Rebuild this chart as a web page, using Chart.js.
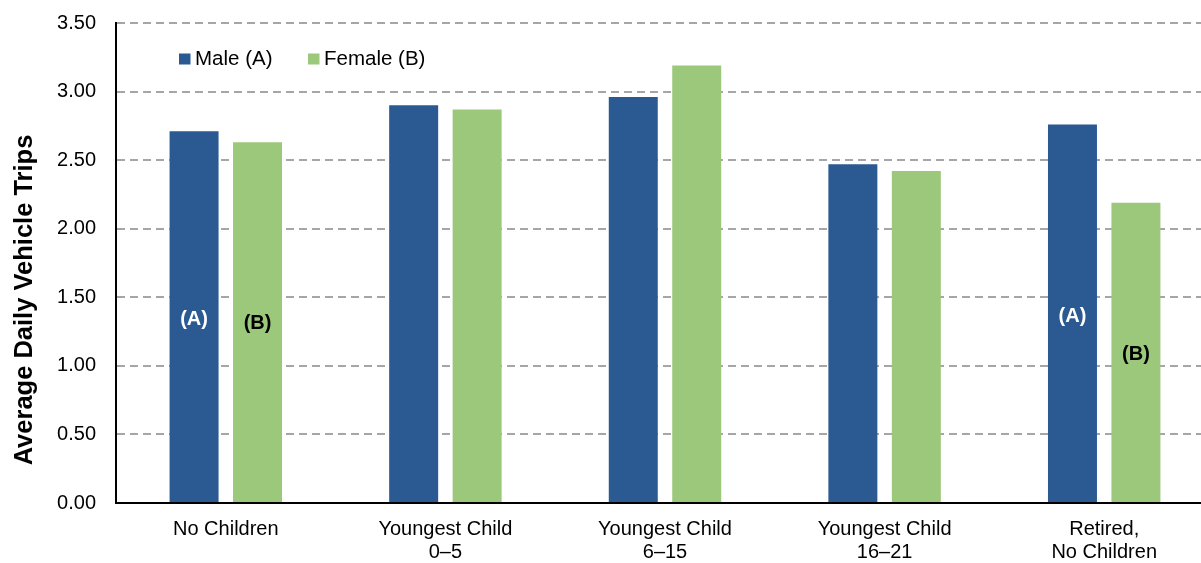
<!DOCTYPE html>
<html>
<head>
<meta charset="utf-8">
<script src="https://cdn.jsdelivr.net/npm/chart.js@4.4.1/dist/chart.umd.min.js"></script>
<style>
  html, body { margin: 0; padding: 0; background: #fff; overflow: hidden; }
  #wrap { position: relative; width: 1214px; height: 563px; }
</style>
</head>
<body>
<div id="wrap"><canvas id="c" width="1214" height="563"></canvas></div>
<script>
// ---- data ----
const categories = [
  'No Children',
  ['Youngest Child', '0\u20135'],
  ['Youngest Child', '6\u201315'],
  ['Youngest Child', '16\u201321'],
  ['Retired,', 'No Children']
];
const seriesNames = ['Male (A)', 'Female (B)'];
const maleValues = [2.71, 2.90, 2.96, 2.47, 2.76];
const femaleValues = [2.63, 2.87, 3.19, 2.42, 2.19];
const yTicks = [0, 0.5, 1.0, 1.5, 2.0, 2.5, 3.0, 3.5];
const yTitle = 'Average Daily Vehicle Trips';
// in-bar markers: category index, series index, text, value at which text sits
const markerCats = [0, 0, 4, 4];
const markerSeries = [0, 1, 0, 1];
const markerTexts = ['(A)', '(B)', '(A)', '(B)'];
const markerValues = [1.34, 1.31, 1.36, 1.08];

const FONT = '"Liberation Sans", Arial, Helvetica, sans-serif';
const colors = ['#2B5A93', '#9BC87A'];
const markerColors = ['#ffffff', '#000000'];

const overlay = {
  id: 'overlay',
  afterDraw(chart) {
    const ctx = chart.ctx;
    const y = chart.scales.y;
    ctx.save();
    // axis title
    ctx.fillStyle = '#000';
    ctx.font = 'bold 25.5px ' + FONT;
    ctx.textAlign = 'center';
    ctx.textBaseline = 'alphabetic';
    ctx.save();
    ctx.translate(32, 300);
    ctx.rotate(-Math.PI / 2);
    ctx.fillText(yTitle, 0, 0);
    ctx.restore();
    // legend
    ctx.font = '20.5px ' + FONT;
    ctx.textAlign = 'left';
    ctx.textBaseline = 'middle';
    let lx = 179;
    const ly = 59;
    chart.data.datasets.forEach((ds, i) => {
      ctx.fillStyle = ds.backgroundColor;
      ctx.fillRect(lx, ly - 5.5, 11.5, 11);
      ctx.fillStyle = '#000';
      ctx.fillText(ds.label, lx + 16, ly);
      lx += 129;
    });
    // markers inside bars
    ctx.font = 'bold 20px ' + FONT;
    ctx.textAlign = 'center';
    for (let k = 0; k < markerTexts.length; k++) {
      const bar = chart.getDatasetMeta(markerSeries[k]).data[markerCats[k]];
      ctx.fillStyle = markerColors[markerSeries[k]];
      ctx.fillText(markerTexts[k], bar.x, y.getPixelForValue(markerValues[k]));
    }
    ctx.restore();
  }
};

new Chart(document.getElementById('c'), {
  type: 'bar',
  data: {
    labels: categories,
    datasets: [
      { label: seriesNames[0], data: maleValues, backgroundColor: colors[0] },
      { label: seriesNames[1], data: femaleValues, backgroundColor: colors[1] }
    ]
  },
  plugins: [overlay],
  options: {
    responsive: false,
    animation: false,
    devicePixelRatio: 1,
    layout: { padding: { top: 23, right: 0, bottom: 0, left: 0 } },
    categoryPercentage: 0.578,
    barPercentage: 0.772,
    plugins: { legend: { display: false }, tooltip: { enabled: false } },
    scales: {
      x: {
        grid: { display: false, drawTicks: false },
        border: { display: true, color: '#000', width: 2 },
        ticks: {
          color: '#000',
          font: { family: FONT, size: 20, lineHeight: 1.15 },
          padding: 15,
          maxRotation: 0,
          autoSkip: false
        },
        afterFit(s) { s.height = 60; s.paddingLeft = 0; s.paddingRight = 0; }
      },
      y: {
        min: 0,
        max: 3.5,
        afterBuildTicks(s) { s.ticks = yTicks.map(v => ({ value: v })); },
        grid: {
          drawTicks: false,
          color: ctx => ctx.tick && ctx.tick.value === 0 ? 'rgba(0,0,0,0)' : '#A6A6A6',
          lineWidth: 2
        },
        border: { display: true, color: '#000', width: 2, dash: [8, 5], dashOffset: 0 },
        ticks: {
          color: '#000',
          font: { family: FONT, size: 20 },
          padding: 20,
          callback: v => Number(v).toFixed(2)
        },
        afterFit(s) { s.width = 116; s.paddingTop = 0; s.paddingBottom = 0; }
      }
    }
  }
});
</script>
</body>
</html>
